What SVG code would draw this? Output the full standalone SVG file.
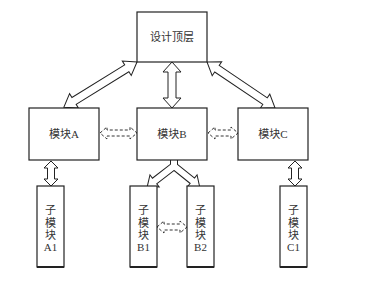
<svg xmlns="http://www.w3.org/2000/svg" width="378" height="286" viewBox="0 0 378 286">
<style>
.box{fill:#fff;stroke:#222;stroke-width:1.2}
.base{stroke:#222;stroke-width:2}
.t{font-family:"Liberation Serif","Noto Sans CJK SC",serif;font-size:11px;fill:#333;text-anchor:middle}
.arr{fill:#fff;stroke:#222;stroke-width:1;stroke-linejoin:miter}
.darr{fill:#fff;stroke:#333;stroke-width:1;stroke-dasharray:3 2}
</style>
<defs>
<g id="yshape">
<rect x="171" y="159" width="6" height="9"/>
<polygon transform="translate(174,166) rotate(142.4)" points="0,-3 25,-3 25,-6.5 33,0 25,6.5 25,3 0,3"/>
<polygon transform="translate(174,166) rotate(38.7)" points="0,-3 24,-3 24,-6.5 32,0 24,6.5 24,3 0,3"/>
</g>
</defs>
<rect width="378" height="286" fill="#fff"/>
<g id="connectors">
<polygon class="arr" transform="translate(172,62) rotate(90)" points="0,0 10,-9 10,-4 36,-4 36,-9 46,0 36,9 36,4 10,4 10,9"/>
<polygon class="arr" transform="translate(137,62) rotate(148.3)" points="0,0 12,-8.5 12,-4 74,-4 74,-8.5 86,0 74,8.5 74,4 12,4 12,8.5"/>
<polygon class="arr" transform="translate(207,62) rotate(34)" points="0,0 12,-8.5 12,-4 70,-4 70,-8.5 82,0 70,8.5 70,4 12,4 12,8.5"/>
<polygon class="arr" transform="translate(51,161) rotate(90)" points="0,0 7,-7 7,-3.5 18,-3.5 18,-7 25,0 18,7 18,3.5 7,3.5 7,7"/>
<polygon class="arr" transform="translate(295,161) rotate(90)" points="0,0 7,-7 7,-3.5 18,-3.5 18,-7 25,0 18,7 18,3.5 7,3.5 7,7"/>
<use href="#yshape" fill="#222" stroke="#222" stroke-width="2" stroke-linejoin="miter"/>
<use href="#yshape" fill="#fff" stroke="none"/>
<polygon class="darr" transform="translate(100,133)" points="0,0 7,-6 7,-3 30,-3 30,-6 37,0 30,6 30,3 7,3 7,6"/>
<polygon class="darr" transform="translate(208,133)" points="0,0 7,-6 7,-3 23,-3 23,-6 30,0 23,6 23,3 7,3 7,6"/>
<polygon class="darr" transform="translate(157,227)" points="0,0 7,-6 7,-3 23,-3 23,-6 30,0 23,6 23,3 7,3 7,6"/>
</g>
<g id="top">
<rect class="box" x="137" y="12" width="70" height="50"/>
<text class="t" x="172" y="41">设计顶层</text>
</g>
<g id="modA">
<rect class="box" x="29" y="108" width="70" height="52"/>
<text class="t" x="64" y="138">模块A</text>
</g>
<g id="modB">
<rect class="box" x="137" y="108" width="70" height="52"/>
<text class="t" x="172" y="138">模块B</text>
</g>
<g id="modC">
<rect class="box" x="238" y="108" width="70" height="52"/>
<text class="t" x="273" y="138">模块C</text>
</g>
<g id="subA1">
<rect class="box" x="37" y="186" width="27" height="81"/>
<line class="base" x1="37" y1="267" x2="64" y2="267"/>
<text class="t"><tspan x="50.5" y="214">子</tspan><tspan x="50.5" y="226.5">模</tspan><tspan x="50.5" y="239">块</tspan><tspan x="50.5" y="251">A1</tspan></text>
</g>
<g id="subB1">
<rect class="box" x="130" y="186" width="27" height="81"/>
<line class="base" x1="130" y1="267" x2="157" y2="267"/>
<text class="t"><tspan x="143.5" y="214">子</tspan><tspan x="143.5" y="226.5">模</tspan><tspan x="143.5" y="239">块</tspan><tspan x="143.5" y="251">B1</tspan></text>
</g>
<g id="subB2">
<rect class="box" x="187" y="186" width="27" height="81"/>
<line class="base" x1="187" y1="267" x2="214" y2="267"/>
<text class="t"><tspan x="200.5" y="214">子</tspan><tspan x="200.5" y="226.5">模</tspan><tspan x="200.5" y="239">块</tspan><tspan x="200.5" y="251">B2</tspan></text>
</g>
<g id="subC1">
<rect class="box" x="280" y="186" width="27" height="81"/>
<line class="base" x1="280" y1="267" x2="307" y2="267"/>
<text class="t"><tspan x="293.5" y="214">子</tspan><tspan x="293.5" y="226.5">模</tspan><tspan x="293.5" y="239">块</tspan><tspan x="293.5" y="251">C1</tspan></text>
</g>
</svg>
